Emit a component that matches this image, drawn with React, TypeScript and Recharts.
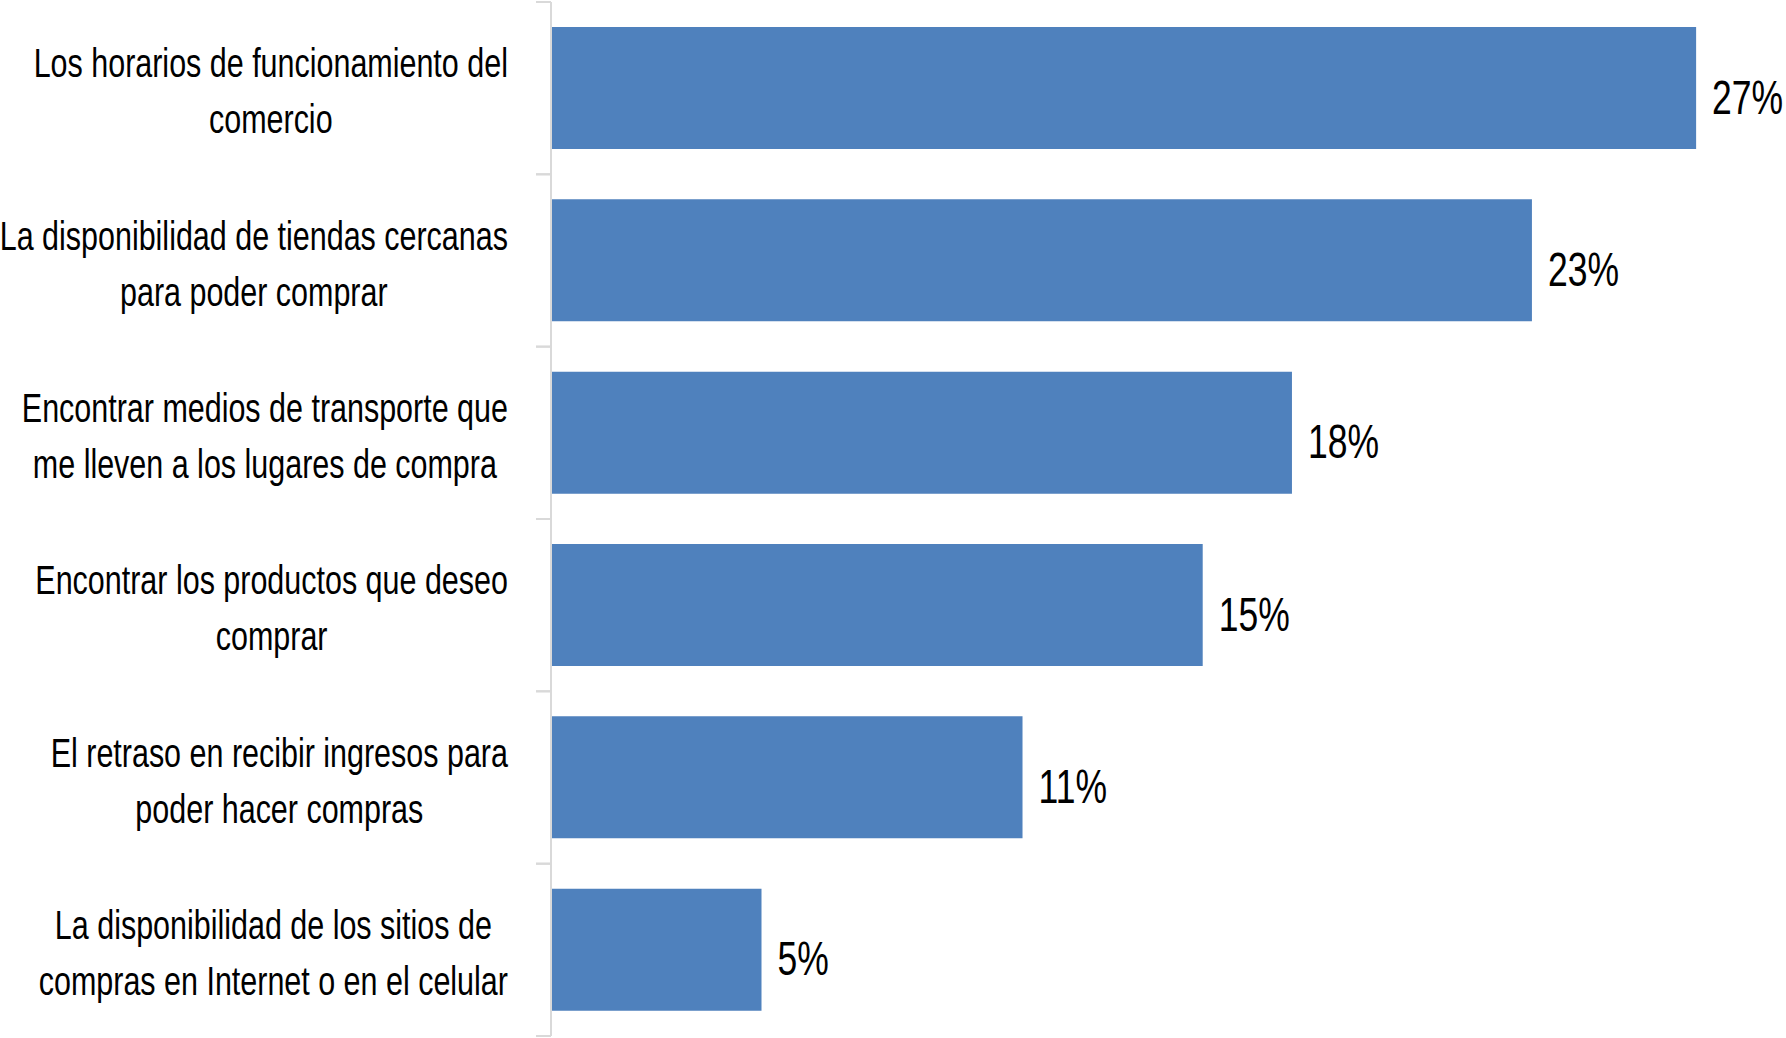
import React from 'react';
import { BarChart, Bar, XAxis, YAxis, CartesianGrid, LabelList } from 'recharts';

const categories = [
  'Los horarios de funcionamiento del\ncomercio',
  'La disponibilidad de tiendas cercanas\npara poder comprar',
  'Encontrar medios de transporte que\nme lleven a los lugares de compra',
  'Encontrar los productos que deseo\ncomprar',
  'El retraso en recibir ingresos para\npoder hacer compras',
  'La disponibilidad de los sitios de\ncompras en Internet o en el celular',
];

const shares = [0.272, 0.233, 0.176, 0.1548, 0.112, 0.05];

const xTicks = [0, 0.05, 0.1, 0.15, 0.2, 0.25, 0.3];

const data = categories.map((name, i) => ({ name, value: shares[i] }));

const WIDTH = 1815;
const HEIGHT = 1038;
const MARGIN = { top: 2, right: 1, bottom: 2, left: 0 };
const AXIS_W = 551;
const BAND = (HEIGHT - MARGIN.top - MARGIN.bottom) / categories.length;

const FONT = '"Liberation Sans Narrow", "Arial Narrow", "Liberation Sans", Arial, sans-serif';
const SX_LABEL = 0.762;
const SX_VALUE = 0.74;
const LABEL_SIZE = 40;
const VALUE_SIZE = 48;
const LINE_H = 56;
const GRID = '#d9d9d9';

let ctx: CanvasRenderingContext2D | null = null;
const measure = (s: string, size: number) => {
  if (!ctx) ctx = document.createElement('canvas').getContext('2d');
  if (!ctx) return s.length * size * 0.5;
  ctx.font = `${size}px ${FONT}`;
  return ctx.measureText(s).width;
};

function CategoryTick(props: any) {
  const { x, y, payload } = props;
  const lines: string[] = String(payload.value).split('\n');
  const maxW = Math.max(...lines.map((l) => measure(l, LABEL_SIZE))) * SX_LABEL;
  const right = x - 43;
  const cx = right - maxW / 2;
  const firstBase = y + 3 - ((lines.length - 1) * LINE_H) / 2 + LABEL_SIZE * 0.358;
  return (
    <g>
      <line x1={x - 15} x2={x} y1={y - BAND / 2} y2={y - BAND / 2} stroke={GRID} strokeWidth={2} />
      <line x1={x - 15} x2={x} y1={y + BAND / 2} y2={y + BAND / 2} stroke={GRID} strokeWidth={2} />
      <text
        transform={`translate(${cx},${firstBase}) scale(${SX_LABEL},1)`}
        textAnchor="middle"
        fontFamily={FONT}
        fontSize={LABEL_SIZE}
        fill="#000"
      >
        {lines.map((l, i) => (
          <tspan key={i} x={0} y={i * LINE_H}>
            {l}
          </tspan>
        ))}
      </text>
    </g>
  );
}

function ValueLabel(props: any) {
  const { x, y, width, height, value } = props;
  const tx = x + width + 16;
  const ty = y + height / 2 + 8.5 + VALUE_SIZE * 0.358;
  return (
    <text
      transform={`translate(${tx},${ty}) scale(${SX_VALUE},1)`}
      fontFamily={FONT}
      fontSize={VALUE_SIZE}
      fill="#000"
      textAnchor="start"
    >
      {`${Math.round(value * 100)}%`}
    </text>
  );
}

export default function App() {
  return (
    <div
      style={{
        position: 'absolute',
        left: 0,
        top: 0,
        width: 1786,
        height: 1038,
        overflow: 'hidden',
        background: '#fff',
      }}
    >
      <BarChart
        width={WIDTH}
        height={HEIGHT}
        data={data}
        layout="vertical"
        margin={MARGIN}
        barSize={122}
      >
        <CartesianGrid horizontal={false} stroke={GRID} strokeWidth={2} />
        <XAxis
          type="number"
          domain={[0, 0.3]}
          ticks={xTicks}
          axisLine={false}
          tickLine={false}
          tick={false}
          height={0}
        />
        <YAxis
          type="category"
          dataKey="name"
          width={AXIS_W}
          axisLine={{ stroke: GRID, strokeWidth: 2 }}
          tickLine={false}
          tickSize={0}
          tickMargin={0}
          tick={<CategoryTick />}
          interval={0}
        />
        <Bar dataKey="value" fill="#4F81BD" isAnimationActive={false}>
          <LabelList dataKey="value" content={<ValueLabel />} />
        </Bar>
      </BarChart>
    </div>
  );
}
